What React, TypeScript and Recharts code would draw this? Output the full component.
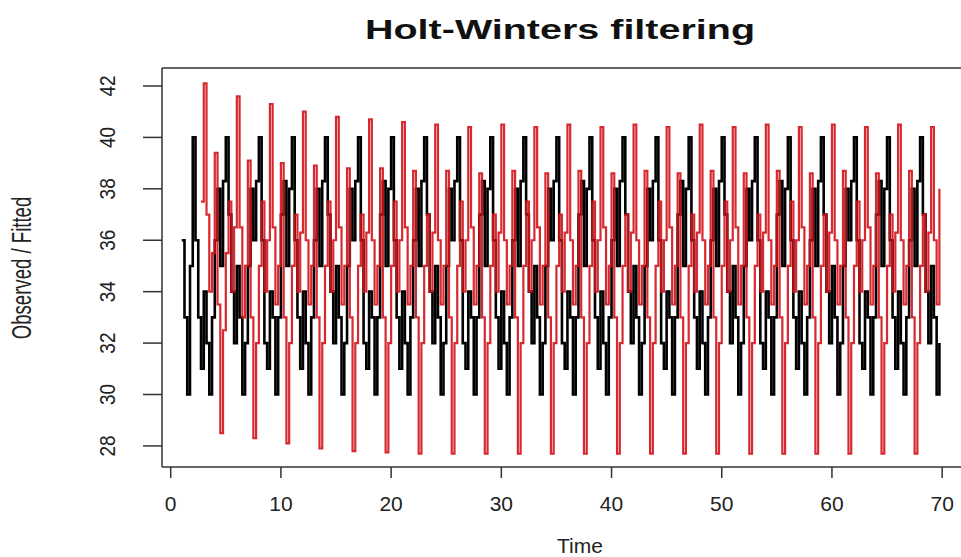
import React from 'react';
import { LineChart, Line, XAxis, YAxis, ReferenceLine } from 'recharts';

// series runs from t = 1, four observations per time unit
const startTime = 1;
const frequency = 4;

const observed: number[] = [
  36, 33, 30, 35,
  40, 36, 33, 31, 34, 32, 30, 33, 36, 38, 35, 38.3,
  40, 37, 34, 32, 35, 33, 30, 32, 35, 38, 36, 38.3,
  40, 36, 32, 31, 34, 33, 30, 33, 37, 38.3, 35, 38,
  40, 36, 33, 31, 34, 32, 30, 33, 36, 38, 35, 38.3,
  40, 37, 34, 32, 35, 33, 30, 32, 35, 38, 36, 38.3,
  40, 36, 32, 31, 34, 33, 30, 33, 37, 38.3, 35, 38,
  40, 36, 33, 31, 34, 32, 30, 33, 36, 38, 35, 38.3,
  40, 37, 34, 32, 35, 33, 30, 32, 35, 38, 36, 38.3,
  40, 36, 32, 31, 34, 33, 30, 33, 37, 38.3, 35, 38,
  40, 36, 33, 31, 34, 32, 30, 33, 36, 38, 35, 38.3,
  40, 37, 34, 32, 35, 33, 30, 32, 35, 38, 36, 38.3,
  40, 36, 32, 31, 34, 33, 30, 33, 37, 38.3, 35, 38,
  40, 36, 33, 31, 34, 32, 30, 33, 36, 38, 35, 38.3,
  40, 37, 34, 32, 35, 33, 30, 32, 35, 38, 36, 38.3,
  40, 36, 32, 31, 34, 33, 30, 33, 37, 38.3, 35, 38,
  40, 36, 33, 31, 34, 32, 30, 33, 36, 38, 35, 38.3,
  40, 37, 34, 32, 35, 33, 30, 32, 35, 38, 36, 38.3,
  40, 36, 32, 31, 34, 33, 30, 33, 37, 38.3, 35, 38,
  40, 36, 33, 31, 34, 32, 30, 33, 36, 38, 35, 38.3,
  40, 37, 34, 32, 35, 33, 30, 32, 35, 38, 36, 38.3,
  40, 36, 32, 31, 34, 33, 30, 33, 37, 38.3, 35, 38,
  40, 36, 33, 31, 34, 32, 30, 33, 36, 38, 35, 38.3,
  40, 37, 34, 32, 35, 33, 30, 32,
];

const fitted: (number | null)[] = [
  null, null, null, null,
  null, null, null, 37.5, 42.1, 37, 34, 35.5, 39.4, 33.5, 28.5, 32.5,
  35.5, 37.5, 34, 36.5, 41.6, 36.5, 33, 35, 39.1, 33, 28.3, 32,
  35, 37.5, 34, 36, 41.3, 36.5, 33.5, 35, 39, 33, 28.1, 32,
  35, 37, 34, 36.3, 41.0, 36, 33.5, 35, 38.9, 33, 27.9, 32,
  35, 37.5, 34, 36, 40.8, 36.5, 33.5, 35, 38.8, 33, 27.8, 32,
  35, 37, 34, 36.3, 40.7, 36, 33.5, 35, 38.8, 33, 27.75, 32,
  35, 37.5, 34, 36, 40.6, 36.5, 33.5, 35, 38.7, 33, 27.7, 32,
  35, 37, 34, 36.3, 40.5, 36, 33.5, 35, 38.7, 33, 27.7, 32,
  35, 37.5, 34, 36, 40.4, 36.5, 33.5, 35, 38.6, 33, 27.7, 32,
  35, 37, 34, 36.3, 40.5, 36, 33.5, 35, 38.7, 33, 27.7, 32,
  35, 37.5, 34, 36, 40.4, 36.5, 33.5, 35, 38.6, 33, 27.7, 32,
  35, 37, 34, 36.3, 40.5, 36, 33.5, 35, 38.7, 33, 27.7, 32,
  35, 37.5, 34, 36, 40.4, 36.5, 33.5, 35, 38.6, 33, 27.7, 32,
  35, 37, 34, 36.3, 40.5, 36, 33.5, 35, 38.7, 33, 27.7, 32,
  35, 37.5, 34, 36, 40.4, 36.5, 33.5, 35, 38.6, 33, 27.7, 32,
  35, 37, 34, 36.3, 40.5, 36, 33.5, 35, 38.7, 33, 27.7, 32,
  35, 37.5, 34, 36, 40.4, 36.5, 33.5, 35, 38.6, 33, 27.7, 32,
  35, 37, 34, 36.3, 40.5, 36, 33.5, 35, 38.7, 33, 27.7, 32,
  35, 37.5, 34, 36, 40.4, 36.5, 33.5, 35, 38.6, 33, 27.7, 32,
  35, 37, 34, 36.3, 40.5, 36, 33.5, 35, 38.7, 33, 27.7, 32,
  35, 37.5, 34, 36, 40.4, 36.5, 33.5, 35, 38.6, 33, 27.7, 32,
  35, 37, 34, 36.3, 40.5, 36, 33.5, 35, 38.7, 33, 27.7, 32,
  35, 37, 34, 36.3, 40.4, 36, 33.5, 38,
];

const timeTicks = [0, 10, 20, 30, 40, 50, 60, 70];
const valueTicks = [28, 30, 32, 34, 36, 38, 40, 42];

const xDomain: [number, number] = [-0.79, 71.71];
const yDomain: [number, number] = [27.18, 42.7];

const data = observed.map((v, i) => ({
  t: startTime + i / frequency,
  observed: v,
  fitted: fitted[i],
}));

const FONT = '"Liberation Sans", Arial, Helvetica, sans-serif';

const TimeTick = (props: any) => {
  const { x, payload } = props;
  return (
    <text x={x} y={511} textAnchor="middle" fontSize={21} fontFamily={FONT} fill="#222">
      {payload.value}
    </text>
  );
};

const ValueTick = (props: any) => {
  const { y, payload } = props;
  return (
    <text
      transform={`translate(107, ${y}) scale(1.2, 1) rotate(-90)`}
      textAnchor="middle"
      dominantBaseline="central"
      fontSize={19}
      fontFamily={FONT}
      fill="#222"
    >
      {payload.value}
    </text>
  );
};

export default function App() {
  return (
    <div style={{ position: 'absolute', left: 0, top: 0, width: 961, height: 557, background: '#fff' }}>
      <svg width={961} height={557} style={{ position: 'absolute', left: 0, top: 0 }}>
        <text
          x={560}
          y={39}
          textAnchor="middle"
          fontSize={27}
          fontWeight="bold"
          fontFamily={FONT}
          textLength={390}
          lengthAdjust="spacingAndGlyphs"
          fill="#111"
        >
          Holt-Winters filtering
        </text>
        <text x={580} y={553} textAnchor="middle" fontSize={21} fontFamily={FONT} fill="#222">
          Time
        </text>
        <text
          transform="translate(31, 268) scale(1.45, 1) rotate(-90)"
          textAnchor="middle"
          fontSize={18.6}
          fontFamily={FONT}
          fill="#222"
        >
          Observed / Fitted
        </text>
      </svg>
      <div style={{ position: 'absolute', left: 0, top: 0 }}>
        <LineChart
          width={961}
          height={557}
          data={data}
          margin={{ top: 68, right: 0, bottom: 40, left: 100 }}
        >
          <XAxis
            dataKey="t"
            type="number"
            domain={xDomain}
            ticks={timeTicks}
            allowDataOverflow
            height={50}
            tickSize={11}
            axisLine={{ stroke: '#333', strokeWidth: 1.5 }}
            tickLine={{ stroke: '#333', strokeWidth: 1.5 }}
            tick={<TimeTick />}
          />
          <YAxis
            type="number"
            domain={yDomain}
            ticks={valueTicks}
            allowDataOverflow
            width={62}
            tickSize={19}
            axisLine={{ stroke: '#333', strokeWidth: 1.5 }}
            tickLine={{ stroke: '#333', strokeWidth: 1.5 }}
            tick={<ValueTick />}
          />
          <ReferenceLine y={yDomain[1]} stroke="#333" strokeWidth={1.5} />
          <Line
            type="stepAfter"
            dataKey="observed"
            stroke="#000"
            strokeWidth={2.6}
            dot={false}
            activeDot={false}
            isAnimationActive={false}
          />
          <Line
            type="stepAfter"
            dataKey="fitted"
            stroke="#d31219"
            strokeWidth={2.2}
            strokeOpacity={0.9}
            dot={false}
            activeDot={false}
            connectNulls={false}
            isAnimationActive={false}
          />
        </LineChart>
      </div>
    </div>
  );
}
